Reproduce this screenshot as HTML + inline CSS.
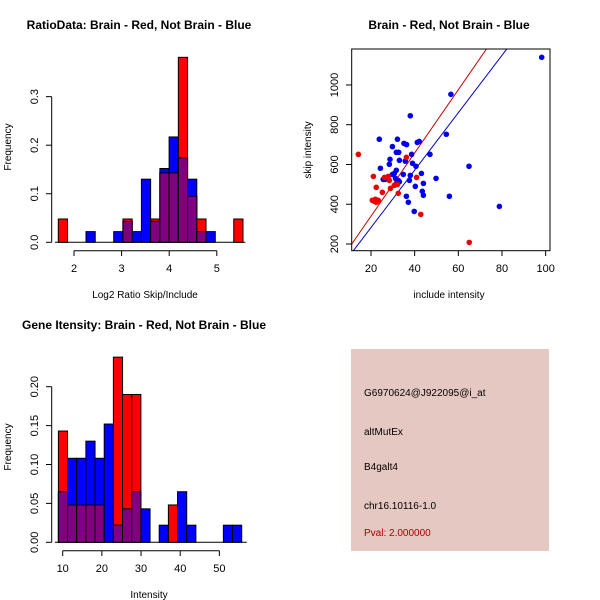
<!DOCTYPE html>
<html><head><meta charset="utf-8"><style>
html,body{margin:0;padding:0;background:#fff}
svg{display:block;font-family:"Liberation Sans",Arial,sans-serif}
</style></head><body>
<svg id="c" width="600" height="600" viewBox="0 0 600 600"></svg>
<script>
// Panel 1: log2 ratio histogram (frequencies)
const ratioBinStart = 1.67;
const ratioBinWidth = 0.194;
const ratioRed  = [0.048,0,0,0,0,0,0,0.048,0,0,0.048,0.143,0.143,0.381,0.095,0.048,0,0,0,0.048];
const ratioBlue = [0,0,0,0.022,0,0,0.022,0.043,0.022,0.13,0.043,0.152,0.217,0.174,0.13,0.022,0.022,0,0,0];
const ratioXTicks = [2,3,4,5];
const ratioYTicks = [0.0,0.1,0.2,0.3];
// Panel 2: scatter
const blueX = [98.2,56.6,38,54.5,23.8,32.1,29.8,35.1,36.3,41.2,42.1,31.6,32.7,38.6,47,28.7,33,24.3,35.7,28.4,39,40.6,64.9,31.6,29.8,30.7,34.8,43.1,38,31.2,49.8,25.6,26.6,32.1,33,37.6,44,40.3,43.5,44,36.2,55.9,37.1,39.8,78.8,32.5];
const blueY = [1139,953,845,752,727,727,690,706,700,711,716,661,661,651,651,626,621,581,617,601,606,591,591,571,550,555,550,555,545,530,530,525,525,508,513,520,505,490,465,445,440,440,410,364,389,520];
const redX = [14.2,21.1,26.2,27.9,28.4,22.4,25.2,28.9,30.7,32.1,32.5,36.2,40.9,42.8,65,20.6,21.5,22.4,23.3,22,22.9];
const redY = [651,540,535,540,520,485,460,480,495,500,455,636,535,349,208,420,415,410,420,425,415];
const redFit = [22, 15.9];   // intercept, slope
const blueFit = [-6, 14.44];
const scXTicks = [20,40,60,80,100];
const scYTicks = [200,400,600,800,1000];
// Panel 3: intensity histogram
const intBinStart = 8.9;
const intBinWidth = 2.34;
const intRed  = [0.143,0.048,0.048,0.048,0.048,0,0.238,0.19,0.19,0,0,0,0.048,0,0,0,0,0,0,0];
const intBlue = [0.065,0.108,0.108,0.13,0.108,0.152,0.022,0.043,0.065,0.043,0,0.022,0,0.065,0.022,0,0,0,0.022,0.022];
const intXTicks = [10,20,30,40,50];
const intYTicks = ["0.00","0.05","0.10","0.15","0.20"];

const NS="http://www.w3.org/2000/svg";
const svg=document.getElementById('c');
function mk(tag,attrs,parent){const e=document.createElementNS(NS,tag);for(const k in attrs)e.setAttribute(k,attrs[k]);(parent||svg).appendChild(e);return e;}
function txt(s,x,y,size,opts,parent){opts=opts||{};const a={x:x,y:y,'font-size':size,'text-anchor':opts.anchor||'middle',fill:opts.fill||'#000'};if(opts.bold)a['font-weight']='bold';if(opts.rot)a.transform='rotate(-90 '+x+' '+y+')';const t=mk('text',a,parent);t.textContent=s;return t;}

function hist(g,red,blue,start,width,xs,ys,xTicks,yTicks,yLabelFn){
  for(let i=0;i<red.length;i++){
    const x0=xs(start+i*width),x1=xs(start+(i+1)*width);
    const r=red[i],b=blue[i];
    if(r>0){const e=mk('rect',{x:x0,y:ys(r),width:x1-x0,height:ys(0)-ys(r),fill:'#ff0000',stroke:'#000','stroke-width':1},g);
      
      }
    if(b>0){const e=mk('rect',{x:x0,y:ys(b),width:x1-x0,height:ys(0)-ys(b),fill:'#0000ff',stroke:'#000','stroke-width':1},g);
      
      }
    const m=Math.min(r,b);
    if(m>0){const e=mk('rect',{x:x0,y:ys(m),width:x1-x0,height:ys(0)-ys(m),fill:'#800080',stroke:'#000','stroke-width':1},g);
      
      }
  }
}

// ---- Panel 1 ----
(function(){
  const g=mk('g',{});
  
  
  const xs=v=>74+(v-2)*47.6, ys=v=>242.3-v*485.5;
  // baseline
  mk('line',{x1:xs(1.6),x2:xs(5.6),y1:242.3,y2:242.3,stroke:'#000'},g);
  hist(g,ratioRed,ratioBlue,ratioBinStart,ratioBinWidth,xs,ys);
  const ax=mk('g',{},g);
  
  
  mk('line',{x1:xs(2),x2:xs(5),y1:250.7,y2:250.7,stroke:'#000'},ax);
  ratioXTicks.forEach(v=>{mk('line',{x1:xs(v),x2:xs(v),y1:250.7,y2:256,stroke:'#000'},ax);txt(String(v),xs(v),272,11,{},ax);});
  const ay=mk('g',{},g);
  
  
  mk('line',{x1:51.7,x2:51.7,y1:ys(0),y2:ys(0.3),stroke:'#000'},ay);
  ratioYTicks.forEach(v=>{mk('line',{x1:46,x2:51.7,y1:ys(v),y2:ys(v),stroke:'#000'},ay);txt(v.toFixed(1),38,ys(v),11,{rot:true},ay);});
  const t=txt('RatioData: Brain - Red, Not Brain - Blue',139,29,12,{bold:true});
  
  
  const xl=txt('Log2 Ratio Skip/Include',145,298,10);
  
  
  const yl=txt('Frequency',11,147,10,{rot:true});
  
  
})();

// ---- Panel 2 ----
(function(){
  const g=mk('g',{});
  
  
  const xs=v=>371+(v-20)*2.183, ys=v=>244-(v-200)*0.1988;
  const cp=mk('clipPath',{id:'sc'},g);mk('rect',{x:351.7,y:49,width:198.3,height:201.7},cp);
  const lg=mk('g',{'clip-path':'url(#sc)'},g);
  [[redFit,'#cc0000','red-fit-line'],[blueFit,'#0000cc','blue-fit-line']].forEach(f=>{
    const a=f[0][0],b=f[0][1];
    const l=mk('line',{x1:xs(0),y1:ys(a),x2:xs(110),y2:ys(a+b*110),stroke:f[1],'stroke-width':1},lg);
    
    
  });
  blueX.forEach((x,i)=>{const c=mk('circle',{cx:xs(x),cy:ys(blueY[i]),r:2.8,fill:'#0000ee'},g);
    
    });
  redX.forEach((x,i)=>{const c=mk('circle',{cx:xs(x),cy:ys(redY[i]),r:2.8,fill:'#ee0000'},g);
    
    });
  mk('rect',{x:351.7,y:49,width:198.3,height:201.7,fill:'none',stroke:'#000'},g);
  const ax=mk('g',{},g);
  
  
  scXTicks.forEach(v=>{mk('line',{x1:xs(v),x2:xs(v),y1:250.7,y2:256,stroke:'#000'},ax);txt(String(v),xs(v),272,11,{},ax);});
  const ay=mk('g',{},g);
  
  
  scYTicks.forEach(v=>{mk('line',{x1:346,x2:351.7,y1:ys(v),y2:ys(v),stroke:'#000'},ay);txt(String(v),338,ys(v),11,{rot:true},ay);});
  const t=txt('Brain - Red, Not Brain - Blue',449,29,12,{bold:true});
  
  
  const xl=txt('include intensity',449,298,10);
  
  
  const yl=txt('skip intensity',311,150,10,{rot:true});
  
  
})();

// ---- Panel 3 ----
(function(){
  const g=mk('g',{});
  
  
  const xs=v=>62.7+(v-10)*3.917, ys=v=>542.3-v*778;
  mk('line',{x1:xs(8),x2:xs(57),y1:542.3,y2:542.3,stroke:'#000'},g);
  hist(g,intRed,intBlue,intBinStart,intBinWidth,xs,ys);
  const ax=mk('g',{},g);
  
  
  mk('line',{x1:xs(10),x2:xs(50),y1:550.7,y2:550.7,stroke:'#000'},ax);
  intXTicks.forEach(v=>{mk('line',{x1:xs(v),x2:xs(v),y1:550.7,y2:556,stroke:'#000'},ax);txt(String(v),xs(v),572,11,{},ax);});
  const ay=mk('g',{},g);
  
  
  mk('line',{x1:51.7,x2:51.7,y1:ys(0),y2:ys(0.2),stroke:'#000'},ay);
  intYTicks.forEach(s=>{const v=parseFloat(s);mk('line',{x1:46,x2:51.7,y1:ys(v),y2:ys(v),stroke:'#000'},ay);txt(s,38,ys(v),11,{rot:true},ay);});
  const t=txt('Gene Itensity: Brain - Red, Not Brain - Blue',144,329,12,{bold:true});
  
  
  const xl=txt('Intensity',149,598,10);
  
  
  const yl=txt('Frequency',11,447,10,{rot:true});
  
  
})();

// ---- Panel 4: info box ----
(function(){
  const g=mk('g',{});
  
  
  mk('rect',{x:351,y:349,width:198,height:202,fill:'#e6c8c2'},g);
  const lines=[['G6970624@J922095@i_at',396,'#000','probe-id'],['altMutEx',435,'#000','event-type'],['B4galt4',470,'#000','gene-name'],['chr16.10116-1.0',509,'#000','location'],['Pval: 2.000000',536,'#aa0000','p-value']];
  lines.forEach(l=>{const t=txt(l[0],364,l[1],10,{anchor:'start',fill:l[2]},g);
    
    });
})();
</script>
</body></html>
